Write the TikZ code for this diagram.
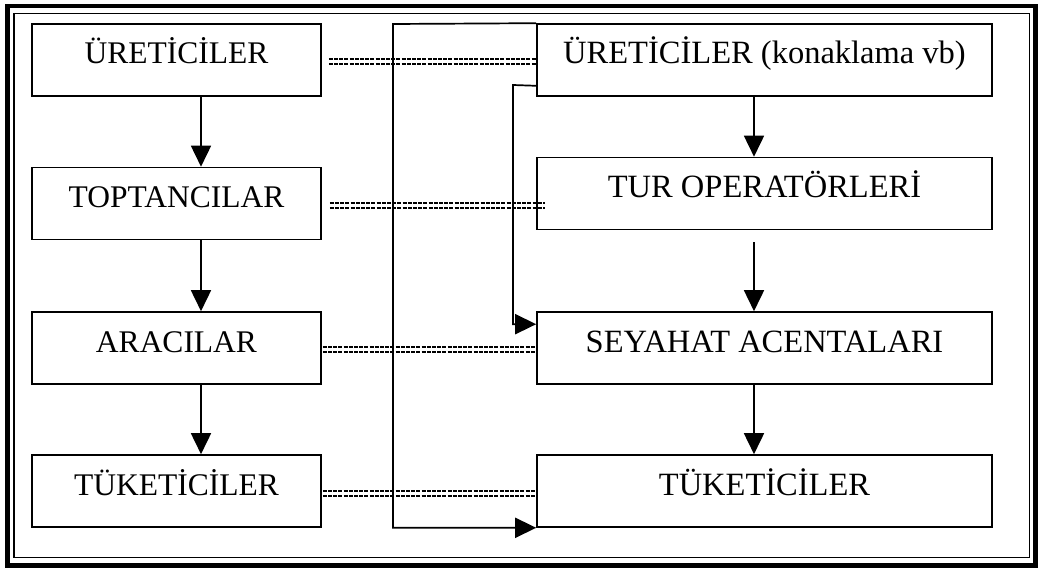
\documentclass[tikz,border=0pt]{standalone}
\usepackage{fontspec}
\setmainfont{Liberation Serif}
\usetikzlibrary{arrows.meta}
\begin{document}
\begin{tikzpicture}[x=1pt,y=-1pt,
  box/.style={draw, line width=1.6pt, rectangle, inner xsep=0pt, inner ysep=0pt,
              text height=40pt, text depth=32pt},
  lbox/.style={box, minimum width=289pt, font=\fontsize{31.5}{36}\selectfont},
  rbox/.style={box, minimum width=455pt, font=\fontsize{32.5}{36}\selectfont},
  flow/.style={line width=1.7pt, -{Triangle[length=21pt,width=20pt]}},
  link/.style={line width=2.5pt, dash pattern=on 4pt off 1.2pt}
]
\useasboundingbox (0,0) rectangle (1041,569);

% double frame
\draw[line width=4.8pt] (7.5,6) rectangle (1035.5,565.5);
\draw[line width=1.8pt] (14,13.5) rectangle (1029.5,557.5);

% general distribution channel
\node[lbox] (l1) at (176.5,60)    {ÜRETİCİLER};
\node[lbox] (l2) at (176.5,203.5) {TOPTANCILAR};
\node[lbox] (l3) at (176.5,348)   {ARACILAR};
\node[lbox] (l4) at (176.5,491)   {TÜKETİCİLER};

% tourism distribution channel
\node[rbox] (r1) at (764.5,60)    {ÜRETİCİLER (konaklama vb)};
\node[rbox] (r2) at (764.5,193.5) {TUR OPERATÖRLERİ};
\node[rbox] (r3) at (764.5,348)   {SEYAHAT ACENTALARI};
\node[rbox] (r4) at (764.5,491)   {TÜKETİCİLER};

% vertical flow, left column
\draw[flow] ([xshift=24.5pt]l1.south) -- ([xshift=24.5pt]l2.north);
\draw[flow] ([xshift=24.5pt]l2.south) -- ([xshift=24.5pt]l3.north);
\draw[flow] ([xshift=24.5pt]l3.south) -- ([xshift=24.5pt]l4.north);

% vertical flow, right column
\draw[flow] ([xshift=-10.5pt]r1.south) -- ([xshift=-10.5pt]r2.north);
\draw[flow, shorten <=12pt] ([xshift=-10.5pt]r2.south) -- ([xshift=-10.5pt]r3.north);
\draw[flow] ([xshift=-10.5pt]r3.south) -- ([xshift=-10.5pt]r4.north);

% bypass routes
\coordinate (bypassA) at (393,24);
\draw[flow] (r1.north west) -- (bypassA) |- (r4.south west);
\coordinate (bypassB) at (513,85);
\coordinate (r1out) at ([yshift=11pt]r1.south west);
\coordinate (r3in) at ([yshift=-13pt]r3.north west);
\draw[flow] (r1out) -- (bypassB) |- (r3in);

% level correspondences: each a pair of dotted rules
\coordinate (d1a) at ([xshift=7pt,yshift=-1.5pt]l1.east);
\coordinate (d1b) at (d1a -| r1.west);
\draw[link] ([yshift=2.6pt]d1a) -- ([yshift=2.6pt]d1b);
\draw[link] ([yshift=-2.6pt]d1a) -- ([yshift=-2.6pt]d1b);
\coordinate (d2a) at ([xshift=8pt,yshift=-2pt]l2.east);
\coordinate (d2b) at ([xshift=9pt]d2a -| r2.west);
\draw[link] ([yshift=2.6pt]d2a) -- ([yshift=2.6pt]d2b);
\draw[link] ([yshift=-2.6pt]d2a) -- ([yshift=-2.6pt]d2b);
\coordinate (d3a) at ([xshift=1pt,yshift=-1.5pt]l3.east);
\coordinate (d3b) at (d3a -| r3.west);
\draw[link] ([yshift=2.6pt]d3a) -- ([yshift=2.6pt]d3b);
\draw[link] ([yshift=-2.6pt]d3a) -- ([yshift=-2.6pt]d3b);
\coordinate (d4a) at ([xshift=1pt,yshift=-2.5pt]l4.east);
\coordinate (d4b) at (d4a -| r4.west);
\draw[link] ([yshift=2.6pt]d4a) -- ([yshift=2.6pt]d4b);
\draw[link] ([yshift=-2.6pt]d4a) -- ([yshift=-2.6pt]d4b);
\end{tikzpicture}
\end{document}
